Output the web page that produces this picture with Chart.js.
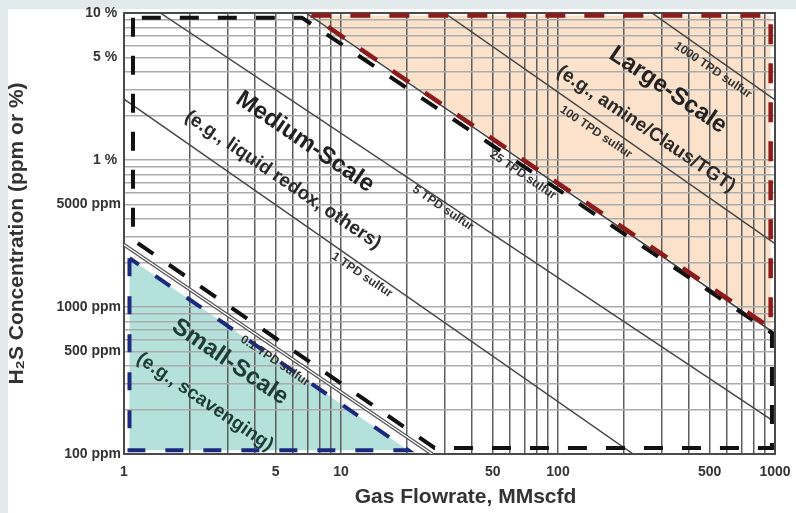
<!DOCTYPE html>
<html>
<head>
<meta charset="utf-8">
<script src="https://cdn.jsdelivr.net/npm/chart.js@4.4.1/dist/chart.umd.min.js"></script>
<style>
  html, body { margin: 0; padding: 0; width: 796px; height: 513px; overflow: hidden; background: #e1e9eb; }
  #panel { position: absolute; left: 8px; top: 9px; width: 788px; height: 504px; background: #ffffff; }
  #wrap { position: absolute; left: 0; top: 0; width: 796px; height: 513px; }
</style>
</head>
<body>
<div id="panel"></div>
<div id="wrap"><canvas id="chart" width="796" height="513"></canvas></div>
<script>
// Axis tick labels (gas flowrate in MMscfd, H2S concentration in ppm)
const flowTicks = [1, 5, 10, 50, 100, 500, 1000];
const flowTickText = ['1', '5', '10', '50', '100', '500', '1000'];
const concTicks = [100, 500, 1000, 5000, 10000, 50000, 100000];
const concTickText = ['100 ppm', '500 ppm', '1000 ppm', '5000 ppm', '1 % ', '5 % ', '10 % '];

// Constant sulfur-rate lines (flow, concentration end points)
const tpd0_1Flow = [1, 26.3];     const tpd0_1Conc = [2650, 100];
const tpd1Flow = [1, 222];        const tpd1Conc = [26000, 100];
const tpd5Flow = [1.47, 1000];    const tpd5Conc = [100000, 165];
const tpd25Flow = [6.9, 1000];    const tpd25Conc = [100000, 660];
const tpd100Flow = [30, 1000];    const tpd100Conc = [100000, 2700];
const tpd1000Flow = [271, 1000];  const tpd1000Conc = [100000, 25600];

// Process-scale regions (closed outlines)
const smallFlow = [1.06, 1.06, 20.4, 1.06];
const smallConc = [2150, 106, 106, 2150];
const mediumFlow = [1.1, 1.1, 27, 968, 968, 6.6, 1.1];
const mediumConc = [93000, 2860, 110, 110, 665, 93000, 93000];
const largeFlow = [7.3, 955, 955, 7.3];
const largeConc = [96000, 96000, 720, 96000];

// Log grid lines: 1..9 per decade
function decadeGrid(lo, hi) {
  const out = [];
  for (let d = lo; d < hi; d *= 10) for (let m = 1; m < 10; m++) out.push(m * d);
  out.push(hi);
  return out;
}
const gridFlow = decadeGrid(1, 1000);
const gridConc = decadeGrid(100, 100000);

const pts = (f, c) => f.map((v, i) => ({ x: v, y: c[i] }));

const FONT = '"Liberation Sans", Arial, sans-serif';

// Text placed along the sulfur-rate diagonals
const areaLabels = [
  { text: 'Medium-Scale', flow: 6.82, conc: 13250, size: 24, color: '#222222' },
  { text: '(e.g., liquid redox, others)', flow: 5.4, conc: 7310, size: 19, color: '#2a2a2a' },
  { text: 'Large-Scale', flow: 321, conc: 29900, size: 24, color: '#222222' },
  { text: '(e.g., amine/Claus/TGT)', flow: 254.6, conc: 16250, size: 19, color: '#2a2a2a' },
  { text: 'Small-Scale', flow: 3.08, conc: 422, size: 24, color: '#1e3b3a' },
  { text: '(e.g., scavenging)', flow: 2.36, conc: 226, size: 19, color: '#1e3b3a' },
  { text: '1000 TPD sulfur', flow: 518, conc: 40900, size: 12, color: '#333333' },
  { text: '100 TPD sulfur', flow: 149.6, conc: 15500, size: 12, color: '#333333' },
  { text: '25 TPD sulfur', flow: 69, conc: 7900, size: 12, color: '#333333' },
  { text: '5 TPD sulfur', flow: 29.5, conc: 4710, size: 12, color: '#333333' },
  { text: '1 TPD sulfur', flow: 12.5, conc: 1650, size: 12, color: '#333333' },
  { text: '0.1 TPD sulfur', flow: 4.96, conc: 430, size: 12, color: '#333333' }
];

const framePlugin = {
  id: 'frame',
  beforeDatasetsDraw(chart) {
    const { ctx, chartArea: a } = chart;
    ctx.save();
    ctx.strokeStyle = '#4a4a4a';
    ctx.lineWidth = 2;
    ctx.strokeRect(a.left, a.top, a.right - a.left, a.bottom - a.top);
    ctx.restore();
  }
};

const textPlugin = {
  id: 'diagText',
  afterDatasetsDraw(chart) {
    const { ctx, scales: { x, y }, chartArea: a } = chart;
    const ang = Math.atan2(y.getPixelForValue(100) - y.getPixelForValue(1000),
                           x.getPixelForValue(10) - x.getPixelForValue(1));
    ctx.save();
    ctx.textAlign = 'center';
    ctx.textBaseline = 'middle';
    for (const l of areaLabels) {
      ctx.save();
      ctx.translate(x.getPixelForValue(l.flow), y.getPixelForValue(l.conc));
      ctx.rotate(ang);
      ctx.font = `bold ${l.size}px ${FONT}`;
      ctx.fillStyle = l.color;
      ctx.fillText(l.text, 0, 0);
      ctx.restore();
    }
    // x-axis title
    ctx.font = `bold 21px ${FONT}`;
    ctx.fillStyle = '#333333';
    ctx.fillText('Gas Flowrate, MMscfd', (a.left + a.right) / 2 + 16, 497);
    ctx.restore();
  }
};

const lineDefaults = { pointRadius: 0, tension: 0, fill: false, borderCapStyle: 'butt', borderJoinStyle: 'miter' };

new Chart(document.getElementById('chart'), {
  type: 'line',
  data: {
    datasets: [
      Object.assign({}, lineDefaults, { data: pts(largeFlow, largeConc), borderColor: '#8e1b1b', borderWidth: 4.5,
        borderDash: [20, 19], fill: 'shape', backgroundColor: '#fce2cb', order: 0 }),
      Object.assign({}, lineDefaults, { data: pts(mediumFlow, mediumConc), borderColor: '#111111', borderWidth: 4,
        borderDash: [19, 19], order: 1 }),
      Object.assign({}, lineDefaults, { data: pts(smallFlow, smallConc), borderColor: '#1b2a7c', borderWidth: 4,
        borderDash: [18, 20], fill: 'shape', backgroundColor: '#b5e1dc', order: 2 }),
      Object.assign({}, lineDefaults, { data: pts(tpd0_1Flow, tpd0_1Conc), borderColor: '#ffffff', borderWidth: 1.3, order: 3 }),
      Object.assign({}, lineDefaults, { data: pts(tpd0_1Flow, tpd0_1Conc), borderColor: '#555555', borderWidth: 3.8, order: 4 }),
      Object.assign({}, lineDefaults, { data: pts(tpd1Flow, tpd1Conc), borderColor: '#444444', borderWidth: 1.5, order: 5 }),
      Object.assign({}, lineDefaults, { data: pts(tpd5Flow, tpd5Conc), borderColor: '#444444', borderWidth: 1.5, order: 5 }),
      Object.assign({}, lineDefaults, { data: pts(tpd25Flow, tpd25Conc), borderColor: '#444444', borderWidth: 1.5, order: 5 }),
      Object.assign({}, lineDefaults, { data: pts(tpd100Flow, tpd100Conc), borderColor: '#444444', borderWidth: 1.5, order: 5 }),
      Object.assign({}, lineDefaults, { data: pts(tpd1000Flow, tpd1000Conc), borderColor: '#444444', borderWidth: 1.5, order: 5 })
    ]
  },
  options: {
    responsive: false,
    animation: false,
    devicePixelRatio: 1,
    layout: { padding: { left: 0, right: 21, top: 13, bottom: 0 } },
    plugins: {
      legend: { display: false },
      tooltip: { enabled: false },
      filler: { drawTime: 'beforeDraw' }
    },
    scales: {
      x: {
        type: 'logarithmic', min: 1, max: 1000, position: 'bottom',
        afterBuildTicks: s => { s.ticks = gridFlow.map(v => ({ value: v })); },
        afterFit: s => { s.height = 59; s.paddingLeft = 0; s.paddingRight = 0; },
        grid: { color: '#5e5e5e', lineWidth: 1.5, drawTicks: false },
        border: { display: false },
        ticks: {
          autoSkip: false, maxRotation: 0, padding: 10, color: '#333333',
          font: { family: FONT, size: 14, weight: 'bold' },
          callback: v => { const i = flowTicks.indexOf(v); return i >= 0 ? flowTickText[i] : ''; }
        }
      },
      y: {
        type: 'logarithmic', min: 100, max: 100000, position: 'left',
        afterBuildTicks: s => { s.ticks = gridConc.map(v => ({ value: v })); },
        afterFit: s => { s.width = 124; s.paddingTop = 0; s.paddingBottom = 0; },
        grid: { color: '#ababab', lineWidth: 1.4, drawTicks: false },
        border: { display: false },
        ticks: {
          autoSkip: false, padding: 3, color: '#333333',
          font: { family: FONT, size: 14, weight: 'bold' },
          callback: v => { const i = concTicks.indexOf(v); return i >= 0 ? concTickText[i] : ''; }
        },
        title: {
          display: true, text: 'H\u2082S Concentration (ppm or %)', color: '#333333',
          font: { family: FONT, size: 21, weight: 'bold' }, padding: { top: 5, bottom: 0 }
        }
      }
    }
  },
  plugins: [framePlugin, textPlugin]
});
</script>
</body>
</html>
